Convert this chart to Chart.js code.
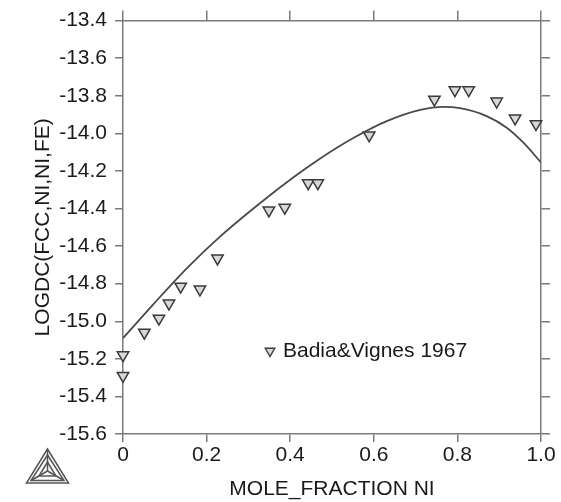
<!DOCTYPE html>
<html>
<head>
<meta charset="utf-8">
<script src="https://cdn.jsdelivr.net/npm/chart.js@4/dist/chart.umd.min.js"></script>
<style>
  html, body { margin: 0; padding: 0; background: #ffffff; }
  #wrap { width: 561px; height: 502px; }
</style>
</head>
<body>
<div id="wrap"><canvas id="c" width="561" height="502"></canvas></div>
<script>
// ---- data ----
const expX = [0, 0, 0.051, 0.086, 0.110, 0.138, 0.184, 0.226, 0.349, 0.387, 0.443, 0.466, 0.589, 0.745, 0.794, 0.827, 0.894, 0.938, 0.988];
const expY = [-15.18, -15.29, -15.06, -14.985, -14.905, -14.815, -14.83, -14.665, -14.41, -14.395, -14.265, -14.265, -14.01, -13.82, -13.77, -13.77, -13.83, -13.92, -13.95];
const calcX = [0, 0.0725, 0.152, 0.232, 0.312, 0.392, 0.471, 0.551, 0.631, 0.711, 0.766, 0.806, 0.870, 0.918, 0.958, 1.0];
const calcY = [-15.09, -14.91, -14.72, -14.55, -14.40, -14.26, -14.135, -14.025, -13.935, -13.875, -13.859, -13.866, -13.908, -13.97, -14.05, -14.155];
const xTickValues = [0, 0.2, 0.4, 0.6, 0.8, 1.0];
const xTickLabels = ['0', '0.2', '0.4', '0.6', '0.8', '1.0'];
const yTickValues = [-15.6, -15.4, -15.2, -15.0, -14.8, -14.6, -14.4, -14.2, -14.0, -13.8, -13.6, -13.4];
const yTickLabels = ['-15.6', '-15.4', '-15.2', '-15.0', '-14.8', '-14.6', '-14.4', '-14.2', '-14.0', '-13.8', '-13.6', '-13.4'];
const expLabel = 'Badia&Vignes 1967';
const xTitle = 'MOLE_FRACTION NI';
const yTitle = 'LOGDC(FCC,NI,NI,FE)';

const FONT = 'Liberation Sans, Arial, Helvetica, sans-serif';
const AXIS = '#7a7a7a';
const TXT = '#1a1a1a';
const MARK_FILL = '#d8d8d8';
const MARK_EDGE = '#3a3a3a';

const gridOpts = (len) => ({
  display: true, drawOnChartArea: false, drawTicks: true,
  tickLength: len, color: AXIS, lineWidth: 1.5
});
const borderOpts = { display: true, color: AXIS, width: 1.5 };

const xTicksFn = (scale) => { scale.ticks = xTickValues.map(v => ({ value: v })); };
const yTicksFn = (scale) => { scale.ticks = yTickValues.map(v => ({ value: v })); };

const legendPlugin = {
  id: 'inlineLegend',
  afterDatasetsDraw(chart, args, opts) {
    const ctx = chart.ctx;
    const ds = chart.data.datasets[1];
    ctx.save();
    ctx.fillStyle = MARK_FILL;
    ctx.strokeStyle = MARK_EDGE;
    ctx.lineWidth = 1.4;
    Chart.helpers.drawPoint(ctx, { pointStyle: 'triangle', rotation: 180, radius: 5.5, borderWidth: 1.4 }, opts.x, opts.y);
    ctx.font = '21px ' + FONT;
    ctx.fillStyle = TXT;
    ctx.textBaseline = 'middle';
    ctx.textAlign = 'left';
    ctx.fillText(ds.label, opts.x + 13, opts.y);
    ctx.restore();
  }
};

const logoPlugin = {
  id: 'logo',
  afterDraw(chart) {
    const ctx = chart.ctx;
    ctx.save();
    ctx.strokeStyle = '#555';
    ctx.lineWidth = 1.5;
    const tri = (ax, ay, bx, by, cx, cy) => {
      ctx.beginPath(); ctx.moveTo(ax, ay); ctx.lineTo(bx, by); ctx.lineTo(cx, cy); ctx.closePath(); ctx.stroke();
    };
    tri(47.5, 449, 26.5, 483, 68.5, 483);
    tri(47.5, 455, 31, 480.5, 64, 480.5);
    ctx.beginPath();
    ctx.moveTo(47.5, 449); ctx.lineTo(47.5, 471);
    ctx.moveTo(47.5, 471); ctx.lineTo(31, 480.5);
    ctx.moveTo(47.5, 471); ctx.lineTo(64, 480.5);
    ctx.stroke();
    tri(47.5, 462, 39, 476, 56, 476);
    ctx.restore();
  }
};

new Chart(document.getElementById('c'), {
  type: 'scatter',
  data: {
    datasets: [
      {
        label: 'calc',
        type: 'line',
        data: calcX.map((x, i) => ({ x: x, y: calcY[i] })),
        borderColor: '#4a4a4a',
        borderWidth: 1.8,
        pointRadius: 0,
        fill: false,
        tension: 0.4,
        cubicInterpolationMode: 'monotone',
        xAxisID: 'x', yAxisID: 'y'
      },
      {
        label: expLabel,
        data: expX.map((x, i) => ({ x: x, y: expY[i] })),
        pointStyle: 'triangle',
        rotation: 180,
        pointRadius: 6.6,
        pointHoverRadius: 6.6,
        backgroundColor: MARK_FILL,
        borderColor: MARK_EDGE,
        borderWidth: 1.5,
        clip: false,
        xAxisID: 'x', yAxisID: 'y'
      }
    ]
  },
  options: {
    responsive: false,
    animation: false,
    devicePixelRatio: 1,
    layout: { padding: 0 },
    plugins: {
      legend: { display: false },
      tooltip: { enabled: false },
      inlineLegend: { x: 270, y: 351 }
    },
    scales: {
      x: {
        type: 'linear', position: 'bottom', min: 0, max: 1,
        afterBuildTicks: xTicksFn,
        afterFit: (s) => { s.height = 68; },
        grid: gridOpts(8), border: borderOpts,
        ticks: {
          color: TXT, font: { family: FONT, size: 21 }, padding: 1,
          maxRotation: 0, autoSkip: false,
          callback: (v, i) => xTickLabels[i]
        },
        title: { display: true, text: xTitle, color: TXT, font: { family: FONT, size: 21 }, padding: { top: 0, bottom: 0 } }
      },
      x2: {
        type: 'linear', position: 'top', min: 0, max: 1,
        afterBuildTicks: xTicksFn,
        afterFit: (s) => { s.height = 17; },
        grid: gridOpts(10), border: borderOpts,
        ticks: { display: false }
      },
      y: {
        type: 'linear', position: 'left', min: -15.6, max: -13.4,
        afterBuildTicks: yTicksFn,
        afterFit: (s) => { s.width = 123; },
        grid: gridOpts(8), border: borderOpts,
        ticks: {
          color: TXT, font: { family: FONT, size: 21 }, padding: 8,
          autoSkip: false,
          callback: (v, i) => yTickLabels[i]
        },
        title: { display: true, text: yTitle, color: TXT, font: { family: FONT, size: 21 }, padding: { top: 31, bottom: 0 } }
      },
      y2: {
        type: 'linear', position: 'right', min: -15.6, max: -13.4,
        afterBuildTicks: yTicksFn,
        afterFit: (s) => { s.width = 20; },
        grid: gridOpts(9), border: borderOpts,
        ticks: { display: false }
      }
    }
  },
  plugins: [legendPlugin, logoPlugin]
});
</script>
</body>
</html>
